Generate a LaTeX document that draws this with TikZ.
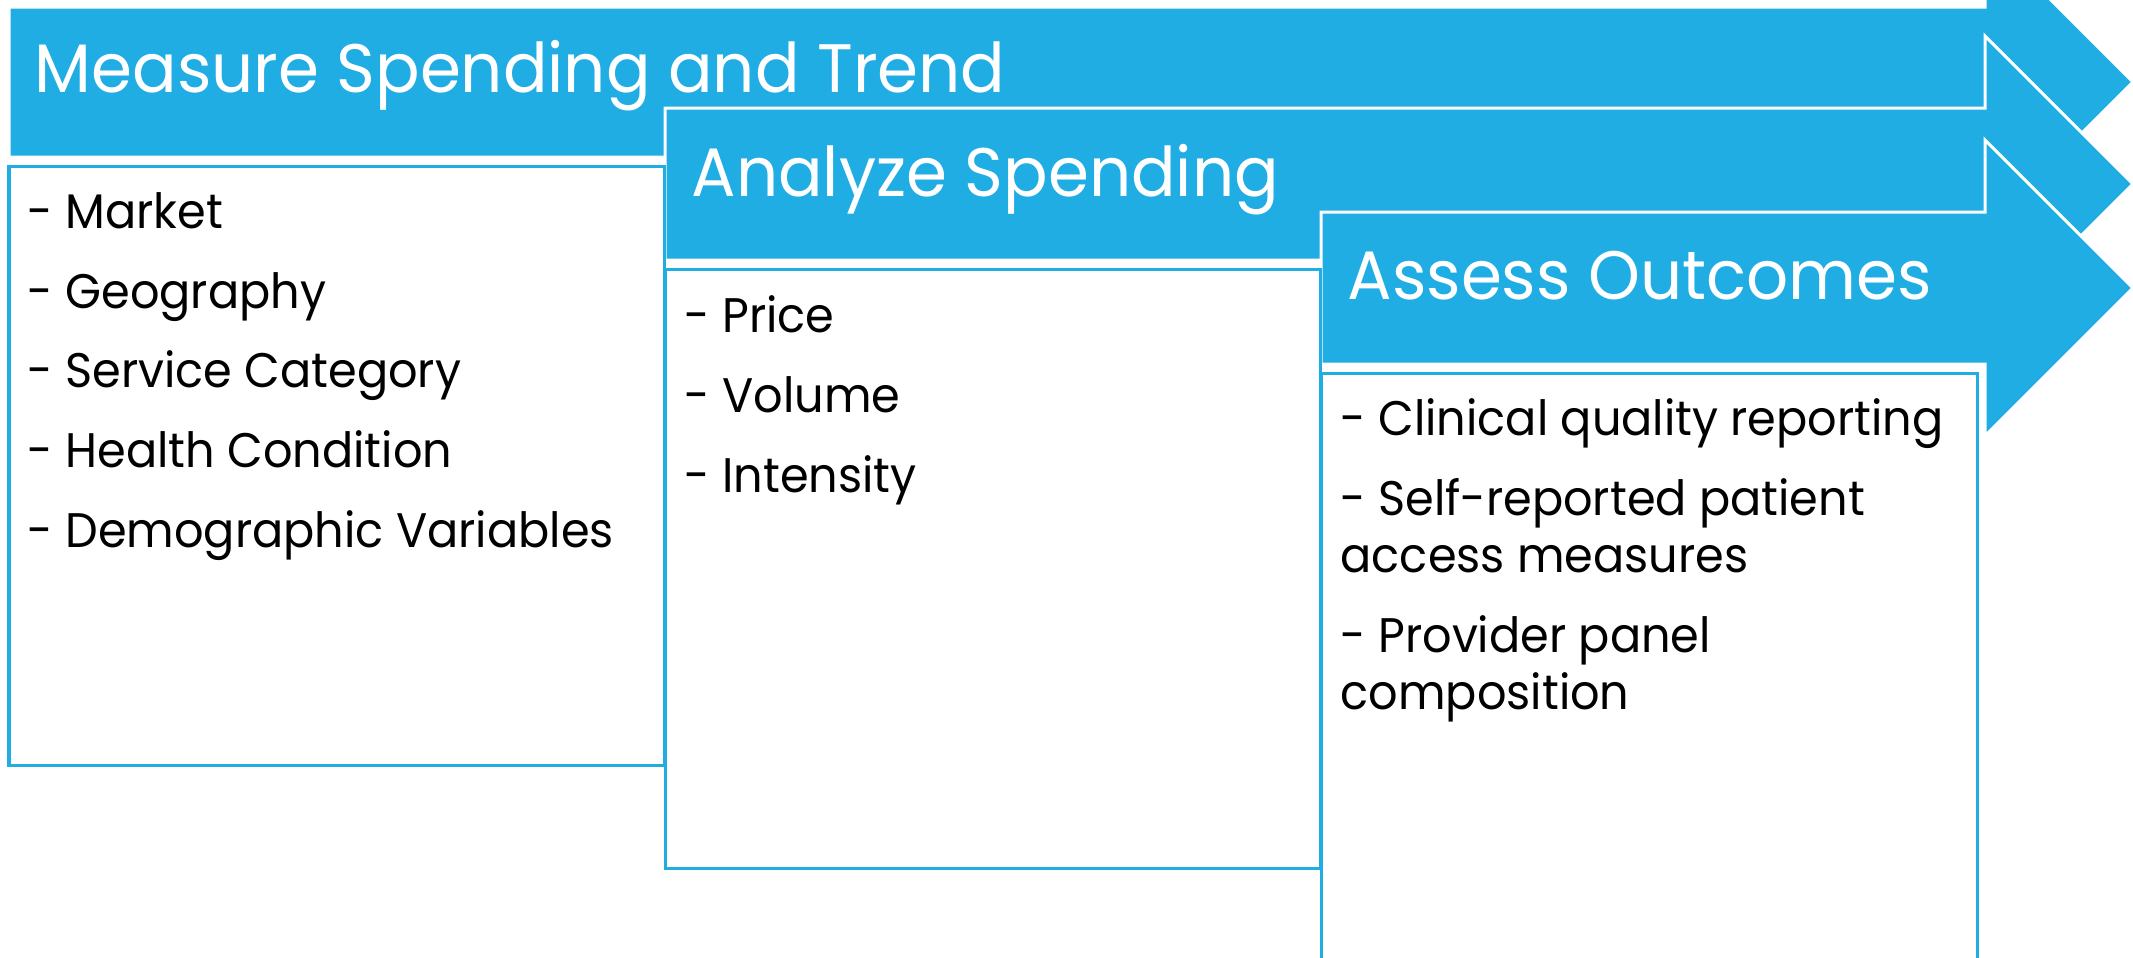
\documentclass[tikz,border=0pt]{standalone}
\usepackage{fontspec}
\setmainfont{Poppins}
\newfontfamily\headfont[FakeStretch=0.962]{Poppins}
\newfontfamily\itemfont[FakeStretch=0.952]{Poppins}
\definecolor{arrowblue}{RGB}{31,173,228}
\definecolor{boxblue}{RGB}{33,172,226}
\tikzset{
  arrowshape/.style={fill=arrowblue, draw=white, line width=0.03cm, line join=miter},
  bodybox/.style={fill=white, draw=boxblue, line width=0.03cm},
  headtext/.style={anchor=base west, inner sep=0pt, text=white, font=\headfont\fontsize{19.5pt}{23pt}\selectfont},
  itemtext/.style={anchor=base west, inner sep=0pt, text=black, font=\itemfont\fontsize{13.8pt}{16.2pt}\selectfont}
}
\begin{document}
\begin{tikzpicture}[x=0.01cm,y=-0.01cm]
\useasboundingbox (0,0) rectangle (2133,957);
\clip (0,0) rectangle (2133,957);
% arrows
\draw[arrowshape] (9,7) -- (1985,7) -- (1985,-66) -- (2133,82) -- (1985,230) -- (1985,157) -- (9,157) -- cycle;
\draw[arrowshape] (665,108) -- (1985,108) -- (1985,36) -- (2133,184) -- (1985,332) -- (1985,260) -- (665,260) -- cycle;
\draw[arrowshape] (1321,212) -- (1985,212) -- (1985,140) -- (2133,288) -- (1985,436) -- (1985,364) -- (1321,364) -- cycle;
% bodies
\draw[bodybox] (9,166) rectangle (664,765);
\draw[bodybox] (665,269) rectangle (1320,868);
\draw[bodybox] (1321,373) rectangle (1977,1000);
% headings
\node[headtext] (h1) at (34,92) {Measure Spending and Trend};
\node[headtext] (h2) at (691,196) {Analyze Spending};
\node[headtext] (h3) at (1347,299) {Assess Outcomes};
% items box 1
\node[itemtext] (m1) at (27,228) {- Market};
\node[itemtext] (m2) at (27,308) {- Geography};
\node[itemtext] (m3) at (27,387) {- Service Category};
\node[itemtext] (m4) at (27,467) {- Health Condition};
\node[itemtext] (m5) at (27,547) {- Demographic Variables};
% items box 2
\node[itemtext] (a1) at (684,332) {- Price};
\node[itemtext] (a2) at (684,412) {- Volume};
\node[itemtext] (a3) at (684,492) {- Intensity};
% items box 3
\node[itemtext] (o1) at (1340,435) {- Clinical quality reporting};
\node[itemtext] (o2) at (1340,515) {- Self-reported patient};
\node[itemtext] (o3) at (1340,572) {access measures};
\node[itemtext] (o4) at (1340,652) {- Provider panel};
\node[itemtext] (o5) at (1340,709) {composition};
\end{tikzpicture}
\end{document}
